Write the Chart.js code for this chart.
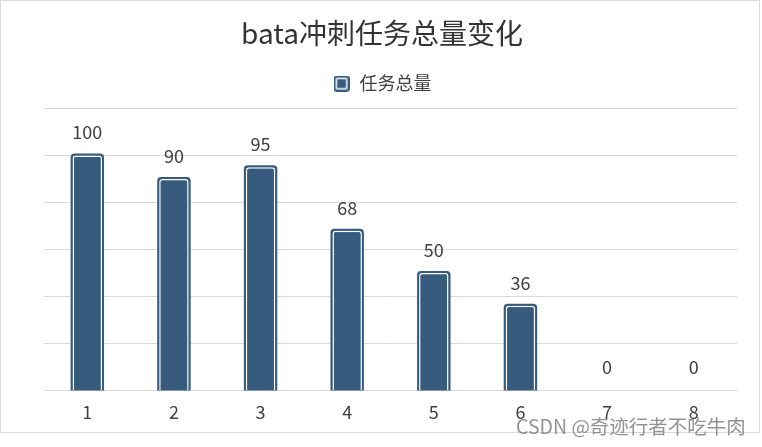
<!DOCTYPE html>
<html><head><meta charset="utf-8">
<script src="https://cdn.jsdelivr.net/npm/chart.js@4/dist/chart.umd.min.js"></script>
<style>
html,body{margin:0;padding:0;background:#fff;}
#wrap{position:absolute;left:0;top:0;width:760px;height:433px;box-sizing:border-box;border:1px solid #d9d9d9;background:#fff;}
#c{position:absolute;left:0;top:0;}
#wm{position:absolute;left:516px;top:411px;font-family:"Noto Sans CJK SC","Noto Sans",sans-serif;font-size:19.5px;color:rgba(120,120,120,0.8);white-space:nowrap;}
</style></head>
<body>
<div id="wrap"><canvas id="c" width="758" height="431"></canvas></div>
<div id="wm">CSDN @奇迹行者不吃牛肉</div>
<script>
const titleText = "bata冲刺任务总量变化";
const seriesName = "任务总量";
const categories = ["1","2","3","4","5","6","7","8"];
const values = [100, 90, 95, 68, 50, 36, 0, 0];

const DARK = "#365b7d";
const FONT = '"Noto Sans CJK SC", "Noto Sans", sans-serif';

const legendIcon = document.createElement("canvas");
legendIcon.width = 16; legendIcon.height = 16;
(function(){
  const g = legendIcon.getContext("2d");
  g.fillStyle = DARK; g.beginPath(); g.roundRect(0,0,16,16,3); g.fill();
  g.fillStyle = "#fff"; g.beginPath(); g.roundRect(2,2,12,12,2); g.fill();
  g.fillStyle = DARK; g.fillRect(3.5,3.5,9,9);
})();

const legendGapPlugin = {
  id: "legendGap",
  afterInit(chart) {
    const lg = chart.legend;
    if (!lg) return;
    const f = lg.fit.bind(lg);
    lg.fit = function () { f(); this.height += 6; };
  }
};

const labelPlugin = {
  id: "valueLabels",
  afterDatasetsDraw(chart) {
    const meta = chart.getDatasetMeta(1);
    const ctx = chart.ctx;
    ctx.save();
    ctx.font = '18px ' + FONT;
    ctx.fillStyle = "#404040";
    ctx.textAlign = "center";
    ctx.textBaseline = "bottom";
    meta.data.forEach((el, i) => {
      ctx.fillText(String(values[i]), el.x, el.y - 14);
    });
    ctx.restore();
  }
};

new Chart(document.getElementById("c"), {
  type: "bar",
  data: {
    labels: categories,
    datasets: [
      {
        label: seriesName + "_outline",
        data: values,
        backgroundColor: (c) => (values[c.dataIndex] ? DARK : "rgba(0,0,0,0)"),
        borderWidth: 0,
        inflateAmount: 2,
        borderRadius: {topLeft: 4, topRight: 4, bottomLeft: 0, bottomRight: 0},
        borderSkipped: false,
        barPercentage: 0.34,
        categoryPercentage: 1,
        grouped: false,
        order: 2
      },
      {
        label: seriesName,
        data: values,
        backgroundColor: DARK,
        borderColor: "#ffffff",
        borderWidth: {top: 1.5, left: 1.5, right: 1.5, bottom: 0},
        borderRadius: {topLeft: 3, topRight: 3, bottomLeft: 0, bottomRight: 0},
        borderSkipped: false,
        inflateAmount: 0,
        barPercentage: 0.34,
        categoryPercentage: 1,
        grouped: false,
        order: 1
      }
    ]
  },
  options: {
    responsive: false,
    animation: false,
    devicePixelRatio: 1,
    layout: { padding: { left: 26, right: 22, top: 12, bottom: 6 } },
    plugins: {
      title: {
        display: true,
        text: titleText,
        color: "#333333",
        font: { family: FONT, size: 28, weight: "normal" },
        padding: { top: 4, bottom: 10 }
      },
      legend: {
        display: true,
        labels: {
          usePointStyle: true,
          pointStyle: legendIcon,
          color: "#404040",
          font: { family: FONT, size: 18 },
          padding: 14,
          generateLabels: (chart) => [{
            text: seriesName, datasetIndex: 1, pointStyle: legendIcon,
            fontColor: "#404040", hidden: false, lineWidth: 0
          }]
        }
      },
      tooltip: { enabled: false }
    },
    scales: {
      x: {
        grid: { display: false },
        border: { display: false },
        ticks: { color: "#404040", font: { family: FONT, size: 18 }, padding: 3 }
      },
      y: {
        min: 0, max: 120,
        ticks: { stepSize: 20, display: false },
        grid: { color: "#d9d9d9", lineWidth: 1, drawTicks: false },
        border: { display: false },
        afterFit: (s) => { s.width += 17; }
      }
    }
  },
  plugins: [legendGapPlugin, labelPlugin]
});
</script>
</body></html>
